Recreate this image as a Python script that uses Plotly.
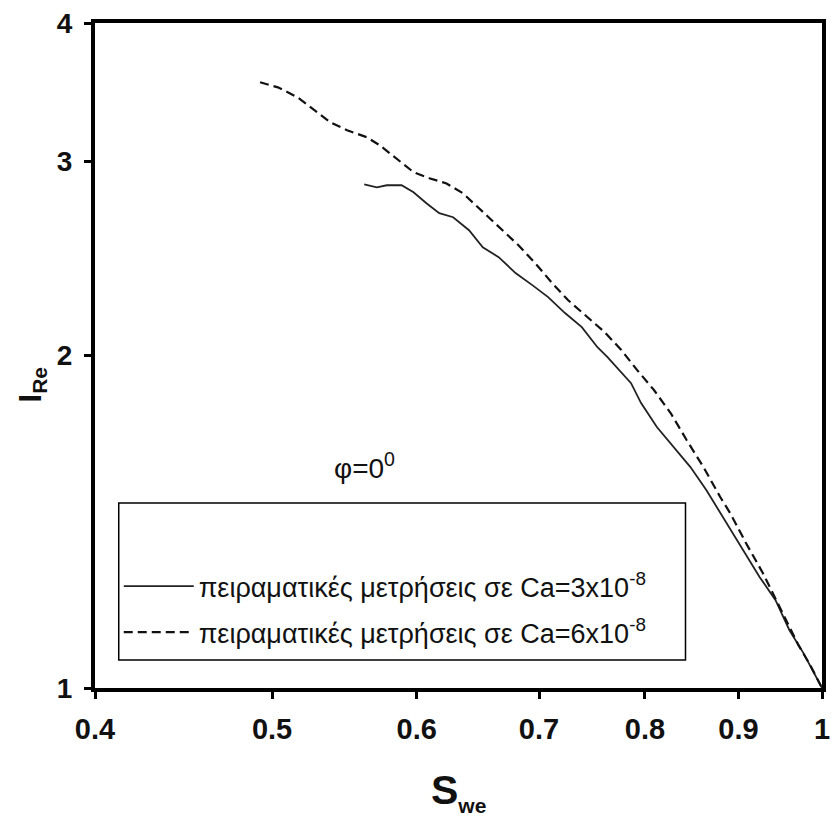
import plotly.graph_objects as go

# Ca = 3x10^-8 (solid)
sw_3 = [0.5616, 0.5706, 0.5778, 0.5887, 0.5976, 0.6074, 0.6173, 0.6282, 0.6409, 0.6521,
        0.6653, 0.6796, 0.6941, 0.7081, 0.7233, 0.7388, 0.7535, 0.7631, 0.7861, 0.7961,
        0.8121, 0.8294, 0.8472, 0.8643, 0.8828, 0.9051, 0.9245, 0.9431, 0.9598, 0.9767, 1.0]
ire_3 = [2.858, 2.840, 2.852, 2.852, 2.811, 2.747, 2.691, 2.668, 2.597, 2.506,
         2.455, 2.375, 2.316, 2.259, 2.185, 2.122, 2.035, 1.993, 1.888, 1.811,
         1.723, 1.652, 1.585, 1.511, 1.428, 1.333, 1.260, 1.201, 1.128, 1.076, 1.0]

# Ca = 6x10^-8 (dashed)
sw_6 = [0.4925, 0.5037, 0.5164, 0.5275, 0.5381, 0.5496, 0.5635, 0.5727, 0.5850, 0.5976,
        0.6096, 0.6226, 0.6360, 0.6488, 0.6653, 0.6821, 0.6967, 0.7117, 0.7260, 0.7443,
        0.7603, 0.7765, 0.7922, 0.8091, 0.8265, 0.8431, 0.8612, 0.8796, 0.8907, 0.9086,
        0.9281, 0.9480, 0.9633, 0.9706, 0.9852, 1.0]
ire_6 = [3.535, 3.498, 3.426, 3.335, 3.252, 3.199, 3.152, 3.100, 3.017, 2.931,
         2.894, 2.864, 2.805, 2.719, 2.614, 2.517, 2.424, 2.326, 2.245, 2.167,
         2.100, 2.023, 1.940, 1.861, 1.773, 1.677, 1.585, 1.489, 1.440, 1.353,
         1.271, 1.184, 1.121, 1.094, 1.049, 1.0]

x_ticks = [0.4, 0.5, 0.6, 0.7, 0.8, 0.9, 1.0]
x_tick_text = ["0.4", "0.5", "0.6", "0.7", "0.8", "0.9", "1"]
y_ticks = [1, 2, 3, 4]
y_tick_text = ["1", "2", "3", "4"]

name_3 = "πειραματικές μετρήσεις σε Ca=3x10<sup>-8</sup>"
name_6 = "πειραματικές μετρήσεις σε Ca=6x10<sup>-8</sup>"
phi_label = "φ=0<sup>0</sup>"

FONT = "Liberation Sans Narrow, Arial Narrow, Liberation Sans, Arial, sans-serif"

fig = go.Figure()
fig.add_trace(go.Scatter(x=sw_3, y=ire_3, mode="lines", name=name_3,
                         line=dict(color="#222222", width=1.8),
                         legendgroup="a"))
fig.add_trace(go.Scatter(x=sw_6, y=ire_6, mode="lines", name=name_6,
                         line=dict(color="#111111", width=2.2, dash="9px,5px"),
                         legendgroup="b"))

L, T, W, H = 95, 23, 735, 665
fig.update_layout(
    width=837, height=821,
    margin=dict(l=L, r=837 - L - W, t=T, b=821 - T - H),
    paper_bgcolor="white", plot_bgcolor="white",
    showlegend=True,
    legend=dict(x=(119 - L) / W, y=(688 - 562) / H, xanchor="left", yanchor="top",
                bgcolor="rgba(0,0,0,0)", borderwidth=0, itemwidth=70,
                tracegroupgap=8,
                font=dict(family=FONT, size=27, color="#111111")),
    font=dict(family=FONT, color="#111111"),
)
fig.update_xaxes(type="log", range=[-0.39794, 0], tickvals=x_ticks, ticktext=x_tick_text,
                 showgrid=False, zeroline=False, showline=True, linecolor="black", linewidth=4,
                 mirror=True, ticks="outside", ticklen=7, tickwidth=2.5, tickcolor="black",
                 ticklabelstandoff=5,
                 tickfont=dict(family=FONT, size=29, color="#111111", weight="bold"))
fig.update_yaxes(type="log", range=[0, 0.60206], tickvals=y_ticks, ticktext=y_tick_text,
                 showgrid=False, zeroline=False, showline=True, linecolor="black", linewidth=4,
                 mirror=True, ticks="outside", ticklen=7, tickwidth=2.5, tickcolor="black",
                 ticklabelstandoff=6,
                 tickfont=dict(family=FONT, size=28, color="#111111", weight="bold"))

# legend frame
fig.add_shape(type="rect", xref="paper", yref="paper",
              x0=(119 - L) / W, x1=(692 - L) / W, y0=(688 - 660) / H, y1=(688 - 503) / H,
              line=dict(color="black", width=1.5), fillcolor="rgba(0,0,0,0)")

fig.add_annotation(text=phi_label, xref="paper", yref="paper",
                   x=(367 - L) / W, y=(688 - 466) / H, showarrow=False,
                   xanchor="center", yanchor="middle",
                   font=dict(family=FONT, size=28, color="#111111"))
fig.add_annotation(text="S<sub><span style='font-size:21px'>we</span></sub>", xref="paper", yref="paper",
                   x=0.5, y=(688 - 792) / H, showarrow=False, xanchor="center", yanchor="middle",
                   font=dict(family=FONT, size=41, color="#111111", weight="bold"))
fig.add_annotation(text="I<sub><span style='font-size:21px'>Re</span></sub>", xref="paper", yref="paper",
                   x=(31 - L) / W, y=(688 - 385) / H, showarrow=False, textangle=-90,
                   xanchor="center", yanchor="middle",
                   font=dict(family=FONT, size=32, color="#111111", weight="bold"))

fig.write_html("out.html")
